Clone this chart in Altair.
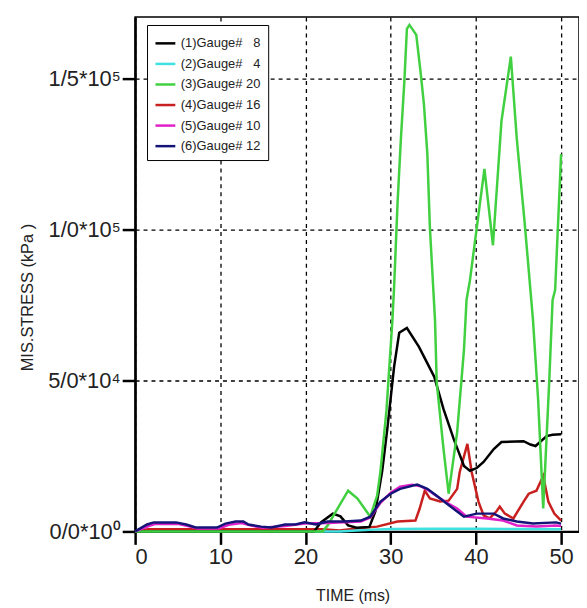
import altair as alt
import pandas as pd

# ---- data ----
series_names = ["(1)Gauge#\u00a0\u00a0 8", "(2)Gauge#\u00a0\u00a0 4", "(3)Gauge# 20",
                "(4)Gauge# 16", "(5)Gauge# 10", "(6)Gauge# 12"]
series_colors = ["#000000", "#3ee0e0", "#40d040", "#c8201e", "#e020c8", "#141478"]

black_t = [0, 21, 21.8, 23.2, 24.1, 25, 26, 27.5, 28.2, 29, 29.6, 30.4, 31, 31.9, 33.3, 35.1, 36.2, 37.4, 38.6, 39.3,
           40.1, 40.9, 42.1, 43, 45.6, 46.4, 47, 48.3, 49, 50]
black_v = [0, 0, 3000, 5900, 5000, 2000, 1200, 1500, 6600, 20000, 33900, 54600, 65800, 67400, 61200, 51300, 40500,
           30600, 21700, 20100, 21000, 23000, 27300, 29600, 29900, 28800, 28300, 31600, 32000, 32200]

cyan_t = [0, 24, 26, 28, 30, 35, 40, 45, 50]
cyan_v = [0, 0, 300, 600, 800, 900, 900, 800, 700]

green_t = [0, 22, 22.6, 25, 26.1, 27.6, 28.4, 28.8, 29.5, 30.2, 30.4, 30.8, 31.2, 31.6, 31.9, 32.2, 33, 33.5, 33.9,
           34.3, 34.6, 35.2, 35.4, 36.2, 36.8, 37.8, 38.6, 38.9, 39.3, 40.1, 41, 42, 43, 44.1, 44.8, 45.7, 46.7, 47.3,
           47.9, 48.6, 49, 49.3, 50]
green_v = [0, 0, 2000, 13500, 10900, 4900, 11800, 20000, 40000, 70000, 81000, 108600, 130300, 149000, 166500, 167800,
           164500, 152300, 141500, 125000, 100600, 70000, 49300, 27300, 12500, 32900, 60200, 76700, 83200, 100600,
           120100, 94800, 135900, 157300, 130000, 103000, 70000, 43800, 7600, 49300, 76700, 80000, 125000]

red_t = [0, 1.5, 22, 24, 26, 28.4, 30.8, 32.9, 33.4, 34, 34.6, 35.8, 36.8, 37.8, 38.1, 39, 39.5, 40.3, 40.9, 41.6,
         42.4, 42.8, 43.4, 44.4, 45.6, 46.2, 47.1, 47.9, 48.5, 49.2, 50]
red_v = [0, 700, 700, 300, 1000, 1600, 3300, 3600, 7600, 13500, 10900, 9900, 10200, 14100, 19700, 29000, 19700, 9900,
         5300, 4300, 6600, 8200, 5900, 4300, 9900, 12500, 13500, 18400, 9900, 5900, 3600]

magenta_t = [0, 1.6, 2.4, 5, 6.2, 7.3, 9.8, 11, 12.5, 13.5, 15, 17.6, 19.9, 22.6, 26.5, 27.6, 28.8, 30, 31.1, 32.5,
             33.5, 34.5, 35.5, 36.6, 37.8, 38.9, 41.3, 43.2, 44.8, 47.1, 49.4, 50]
magenta_v = [0, 1800, 2500, 2500, 1800, 1000, 1000, 2200, 2800, 2000, 1200, 1800, 2600, 2800, 3300, 4600, 9500, 12800,
             14800, 15500, 15000, 13500, 11500, 9500, 7600, 4900, 4300, 3600, 2000, 1600, 2000, 1800]

blue_t = [0, 1.4, 2.2, 4.8, 6, 7.1, 9.6, 10.6, 11.8, 12.7, 13.3, 14.8, 16, 17.6, 18.8, 19.9, 21.2, 22.6, 24.6, 26.5,
          27.6, 28.8, 30, 31.1, 33.1, 34.3, 35.4, 36.6, 37.8, 38.6, 40.1, 42.1, 43.2, 44.8, 46.7, 49.4, 50]
blue_v = [0, 2300, 3000, 3000, 2300, 1300, 1300, 2600, 3300, 3300, 2300, 1600, 1300, 2300, 2300, 3000, 2300, 3300,
          3300, 3600, 4900, 9900, 12500, 14100, 15500, 14100, 11800, 9200, 6600, 4900, 5900, 5900, 4300, 3300, 2600,
          3000, 2600]

x_ticks = [0, 10, 20, 30, 40, 50]
y_ticks = [0, 50000, 100000, 150000]
y_tick_labels = ["0/0*10\u2070", "5/0*10\u2074", "1/0*10\u2075", "1/5*10\u2075"]

all_series = [
    (series_names[0], black_t, black_v),
    (series_names[1], cyan_t, cyan_v),
    (series_names[2], green_t, green_v),
    (series_names[3], red_t, red_v),
    (series_names[4], magenta_t, magenta_v),
    (series_names[5], blue_t, blue_v),
]
rows = []
for name, ts, vs in all_series:
    for i, (t, v) in enumerate(zip(ts, vs)):
        rows.append({"series": name, "t": t, "v": v, "idx": i})
df = pd.DataFrame(rows)

label_expr = "''"
for val, lab in zip(reversed(y_ticks), reversed(y_tick_labels)):
    label_expr = f"datum.value == {val} ? '{lab}' : ({label_expr})"

base = alt.Chart(df).mark_line(strokeWidth=2.5, interpolate="linear").encode(
    x=alt.X("t:Q", scale=alt.Scale(domain=[0, 52.1], nice=False, zero=False),
            axis=alt.Axis(title="TIME (ms)", values=x_ticks, format="d", titleX=219, titleY=65,
                          titleBaseline="middle", titleFontSize=16, domainWidth=2, labelPadding=2)),
    y=alt.Y("v:Q", scale=alt.Scale(domain=[0, 170400], nice=False),
            axis=alt.Axis(title="MIS.STRESS (kPa )", values=y_ticks, labelExpr=label_expr,
                          titleX=-108, titleY=282, titleAlign="center", titleBaseline="middle",
                          titleFontSize=16.5, domainWidth=2.5, labelPadding=2)),
    color=alt.Color("series:N", scale=alt.Scale(domain=series_names, range=series_colors),
                    legend=alt.Legend(title=None, orient="none", legendX=12, legendY=8,
                                      strokeColor="black", fillColor="white", padding=7,
                                      symbolType="stroke", symbolSize=400, symbolStrokeWidth=2.5,
                                      labelFontSize=13, labelFont="Liberation Sans", labelColor="#222",
                                      rowPadding=1.7, labelOffset=4, cornerRadius=0)),
    order="idx:Q",
)

draw_order = [series_names[3], series_names[1], series_names[0], series_names[2], series_names[4], series_names[5]]
layers = [base.transform_filter(alt.datum.series == s) for s in draw_order]

chart = alt.layer(*layers).properties(
    width=447, height=518,
    autosize=alt.AutoSizeParams(type="none"),
    padding={"left": 128, "top": 7, "right": 0, "bottom": 77},
).configure_view(
    stroke="black", strokeWidth=1.5
).configure_axis(
    grid=True, gridColor="black", gridDash=[4, 4], gridWidth=1.3, gridOpacity=1,
    domainColor="black", tickColor="black", tickSize=13, tickWidth=2.5,
    labelFont="Liberation Sans", labelFontSize=22, labelColor="#222",
    titleFont="Liberation Sans", titleFontSize=14, titleFontWeight="normal", titleColor="#222",
)

chart.save("out.html", embed_options={"renderer": "svg", "actions": False})
